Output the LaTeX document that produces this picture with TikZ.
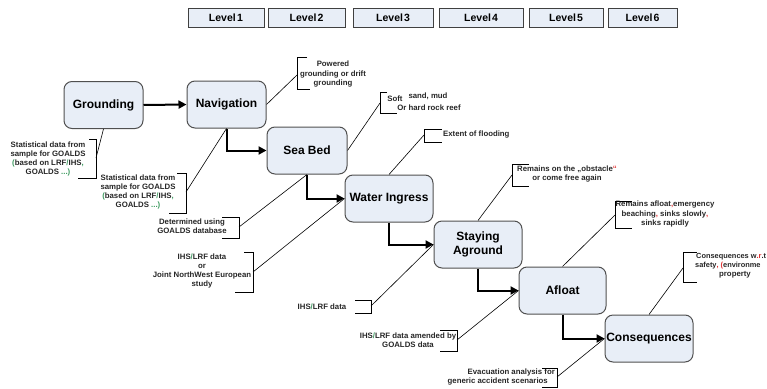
\documentclass[tikz,border=0pt]{standalone}
\usepackage{fontspec}
\setmainfont{Liberation Sans}
\usetikzlibrary{arrows.meta,calc}
\definecolor{boxfill}{HTML}{E8EEF7}
\definecolor{boxline}{HTML}{505050}
\definecolor{gmark}{HTML}{3C9A5F}
\definecolor{rmark}{HTML}{E03030}
\begin{document}
\begin{tikzpicture}[x=1pt,y=-1pt,
  mainbox/.style={draw=boxline, line width=1pt, fill=boxfill, rounded corners=8pt,
    minimum height=47pt, align=center, inner sep=1pt,
    font=\fontsize{12}{14.5}\selectfont\bfseries},
  levelbox/.style={draw=black!75, line width=1pt, fill=boxfill, minimum height=19pt,
    inner sep=0pt, font=\fontsize{10.5}{12}\selectfont\bfseries},
  flow/.style={line width=2pt, -{Triangle[length=8pt,width=8pt]}},
  leader/.style={line width=0.6pt},
  brk/.style={line width=0.9pt},
  note/.style={font=\fontsize{7.8}{9.3}\selectfont\bfseries, text=black!85,
    align=center, inner sep=0pt}]
\useasboundingbox (0,0) rectangle (767,388);
\clip (0,0) rectangle (767,388);

% level header
\node[levelbox, minimum width=76pt] (L1) at (226,17.5) {Level\kern1.5pt 1};
\node[levelbox, minimum width=77pt] (L2) at (306.5,17.5) {Level\kern1pt 2};
\node[levelbox, minimum width=80pt] (L3) at (393,17.5) {Level\kern1pt 3};
\node[levelbox, minimum width=84pt] (L4) at (481,17.5) {Level\kern1pt 4};
\node[levelbox, minimum width=74pt] (L5) at (566,17.5) {Level\kern1pt 5};
\node[levelbox, minimum width=69pt] (L6) at (642.5,17.5) {Level\kern1pt 6};

% main boxes
\node[mainbox, minimum width=79pt] (G) at (103.5,105) {Grounding};
\node[mainbox, minimum width=79pt] (N) at (226.5,104.5) {Navigation};
\node[mainbox, minimum width=80pt] (S) at (307,150.5) {Sea Bed};
\node[mainbox, minimum width=88pt] (W) at (389,198.5) {Water Ingress};
\node[mainbox, minimum width=88pt] (SA) at (478,244.5) {Staying\\Aground};
\node[mainbox, minimum width=87pt] (A) at (562.5,290.5) {Afloat};
\node[mainbox, minimum width=88pt] (C) at (649,338.5) {Consequences};

% flow arrows
\draw[flow] (G.east) -- (N.west);
\draw[flow] (N.south) |- (S.west);
\draw[flow] (S.south) |- (W.west);
\draw[flow] (W.south) |- (SA.west);
\draw[flow] (SA.south) |- (A.west);
\draw[flow] (A.south) |- (C.west);

% --- annotations ---
% Grounding
\node[note] (tG) at (48,159) {Statistical data from\\sample for GOALDS\\{\color{gmark}(}based on LRF{\color{gmark}/}IHS{\color{gmark},}\\GOALDS {\color{gmark}...)}};
\draw[brk] (89,139) -- (96,139) -- (96,178) -- (78,178);
\coordinate (bG) at (96,158);
\draw[leader] (bG) -- (G.south);

% Navigation lower
\node[note] (tN1) at (138,192) {Statistical data from\\sample for GOALDS\\{\color{gmark}(}based on LRF{\color{gmark}/}IHS{\color{gmark},}\\GOALDS {\color{gmark}...)}};
\draw[brk] (177,173) -- (186,173) -- (186,213) -- (169,213);
\coordinate (bN1) at (186,192);
\draw[leader] (bN1) -- (N.south);

% Navigation upper
\node[note] (tN2) at (333,74) {Powered\\grounding or drift\\grounding};
\draw[brk] (307,57) -- (297,57) -- (297,89) -- (310,89);
\coordinate (bN2) at (297,75);
\draw[leader] (N.east) -- (bN2);

% Sea bed upper
\node[note] (tS1) at (395,98.5) {Soft};
\node[note] (tS2) at (428,96) {sand, mud};
\node[note] (tS3) at (429,108) {Or hard rock reef};
\draw[brk] (387,92) -- (380,92) -- (380,113) -- (397,113);
\coordinate (bS) at (380,103);
\draw[leader] (S.east) -- (bS);

% Sea bed lower
\node[note] (tS4) at (192,226.5) {Determined using\\GOALDS database};
\draw[brk] (222,217) -- (239,217) -- (239,238) -- (222,238);
\coordinate (bS4) at (239,227);
\draw[leader] (bS4) -- (S.south);

% Water ingress upper
\node[note, anchor=west] (tW) at (443,134) {Extent of flooding};
\draw[brk] (442,129) -- (424,129) -- (424,142) -- (442,142);
\coordinate (bW) at (424,135);
\draw[leader] (W.north) -- (bW);

% Water ingress lower
\node[note] (tW2) at (202,271) {IHS{\color{gmark}/}LRF data\\or\\Joint NorthWest European\\study};
\draw[brk] (244,252) -- (253,252) -- (253,292) -- (235,292);
\coordinate (bW2) at (253,272);
\draw[leader] (bW2) -- (W.west);

% Staying aground upper
\node[note] (tSA) at (567,174) {Remains on the „obstacle{\color{rmark}“}\\or come free again};
\draw[brk] (529,164) -- (512,164) -- (512,186) -- (529,186);
\coordinate (bSA) at (512,175);
\draw[leader] (SA.north) -- (bSA);

% Staying aground lower
\node[note] (tSA2) at (322,306.5) {IHS{\color{gmark}/}LRF data};
\draw[brk] (355,300) -- (371,300) -- (371,313) -- (355,313);
\coordinate (bSA2) at (371,306);
\draw[leader] (bSA2) -- (SA.west);

% Afloat upper
\node[note] (tA) at (665,214) {Remains afloat{\color{rmark},}emergency\\beaching{\color{rmark},} sinks slowly{\color{rmark},}\\sinks rapidly};
\draw[brk] (632,201) -- (615,201) -- (615,228) -- (632,228);
\coordinate (bA) at (615,215);
\draw[leader] (A.north) -- (bA);

% Afloat lower
\node[note] (tA2) at (408,340) {IHS{\color{gmark}/}LRF data amended by\\GOALDS data};
\draw[brk] (440,330) -- (457,330) -- (457,351) -- (440,351);
\coordinate (bA2) at (457,340);
\draw[leader] (bA2) -- (A.west);

% Consequences upper (text runs to the picture's right edge)
\node[note, anchor=west, font=\fontsize{7.4}{9}\selectfont\bfseries] (tC1) at (696,257) {Consequences w{\color{rmark}.r}.t};
\node[note, anchor=west, font=\fontsize{7.4}{9}\selectfont\bfseries] (tC2) at (695,266) {safety{\color{rmark}, (}environme};
\node[note] (tC3) at (735,275) {property};
\draw[brk] (697,252) -- (683,252) -- (683,282) -- (697,282);
\coordinate (bC) at (683,268);
\draw[leader] (C.north) -- (bC);

% Consequences lower
\node[note, align=right, anchor=east] (tC4) at (555,377) {Evacuation analysis for\\generic accident scenarios\hspace*{7pt}};
\draw[brk] (542,368) -- (557,368) -- (557,387) -- (542,387);
\coordinate (bC2) at (557,377);
\draw[leader] (bC2) -- (C.west);
\end{tikzpicture}
\end{document}
